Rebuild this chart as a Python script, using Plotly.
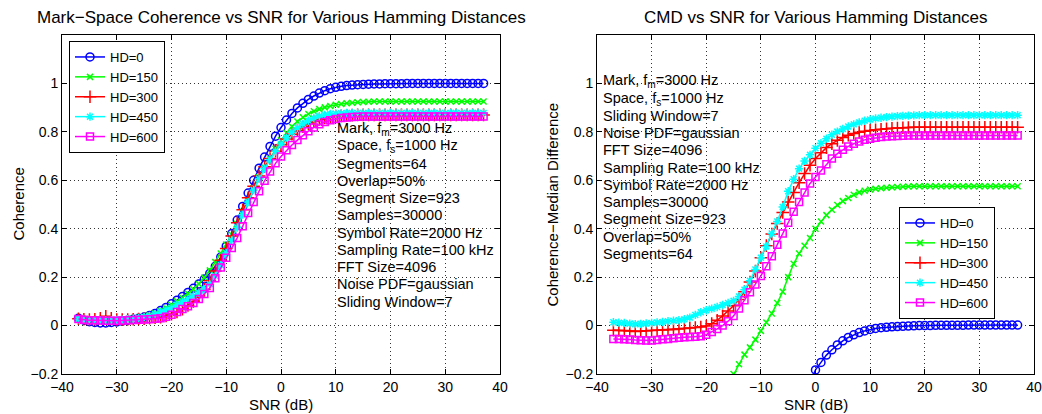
import plotly.graph_objects as go

W, H = 1042, 414

snr = list(range(-37, 38))

x_ticks = [-40, -30, -20, -10, 0, 10, 20, 30, 40]
x_tick_labels = ["\u221240", "\u221230", "\u221220", "\u221210", "0", "10", "20", "30", "40"]
y_ticks = [-0.2, 0, 0.2, 0.4, 0.6, 0.8, 1.0]
y_tick_labels = ["\u22120.2", "0", "0.2", "0.4", "0.6", "0.8", "1"]

series_names = ["HD=0", "HD=150", "HD=300", "HD=450", "HD=600"]

# ---- Left panel: Mark-Space coherence ----
coh_hd0 = [0.030, 0.022, 0.016, 0.013, 0.011, 0.011, 0.013, 0.015, 0.018, 0.022,
           0.026, 0.030, 0.035, 0.042, 0.050, 0.062, 0.075, 0.090, 0.105, 0.120,
           0.137, 0.154, 0.172, 0.192, 0.216, 0.245, 0.283, 0.328, 0.380, 0.436,
           0.492, 0.547, 0.600, 0.650, 0.696, 0.740, 0.782, 0.818, 0.849, 0.876,
           0.899, 0.918, 0.934, 0.948, 0.960, 0.970, 0.978, 0.984, 0.988, 0.991,
           0.993, 0.995, 0.996, 0.997, 0.998, 0.998, 0.999, 0.999, 0.999, 0.999,
           1.000, 1.000, 1.000, 1.000, 1.000, 1.000, 1.000, 1.000, 1.000, 1.000,
           1.000, 1.000, 1.000, 1.000, 1.000]
coh_hd150 = [0.028, 0.025, 0.022, 0.021, 0.020, 0.020, 0.021, 0.022, 0.024, 0.026,
             0.029, 0.032, 0.036, 0.042, 0.050, 0.060, 0.072, 0.086, 0.100, 0.115,
             0.132, 0.150, 0.172, 0.198, 0.228, 0.262, 0.298, 0.335, 0.375, 0.420,
             0.470, 0.520, 0.568, 0.612, 0.652, 0.690, 0.730, 0.765, 0.795, 0.822,
             0.843, 0.860, 0.874, 0.885, 0.894, 0.901, 0.907, 0.912, 0.915, 0.918,
             0.920, 0.922, 0.923, 0.924, 0.925, 0.925, 0.925, 0.925, 0.925, 0.925,
             0.925, 0.925, 0.925, 0.925, 0.925, 0.925, 0.925, 0.925, 0.925, 0.925,
             0.925, 0.925, 0.925, 0.925, 0.925]
coh_hd300 = [0.028, 0.026, 0.025, 0.026, 0.030, 0.038, 0.030, 0.025, 0.025, 0.025,
             0.026, 0.027, 0.028, 0.030, 0.032, 0.035, 0.040, 0.047, 0.056, 0.068,
             0.083, 0.100, 0.122, 0.150, 0.185, 0.225, 0.270, 0.318, 0.370, 0.425,
             0.478, 0.528, 0.575, 0.618, 0.656, 0.690, 0.720, 0.747, 0.770, 0.790,
             0.807, 0.821, 0.833, 0.843, 0.851, 0.857, 0.861, 0.864, 0.866, 0.868,
             0.869, 0.870, 0.870, 0.870, 0.870, 0.870, 0.870, 0.870, 0.870, 0.870,
             0.870, 0.870, 0.870, 0.870, 0.870, 0.870, 0.870, 0.870, 0.870, 0.870,
             0.870, 0.870, 0.870, 0.870, 0.870]
coh_hd450 = [0.026, 0.024, 0.023, 0.022, 0.022, 0.022, 0.022, 0.023, 0.024, 0.026,
             0.028, 0.031, 0.035, 0.040, 0.047, 0.055, 0.064, 0.074, 0.085, 0.097,
             0.110, 0.122, 0.135, 0.150, 0.172, 0.205, 0.250, 0.300, 0.352, 0.405,
             0.458, 0.510, 0.560, 0.606, 0.648, 0.686, 0.720, 0.750, 0.776, 0.798,
             0.817, 0.833, 0.846, 0.857, 0.865, 0.870, 0.874, 0.876, 0.877, 0.878,
             0.878, 0.878, 0.878, 0.878, 0.878, 0.878, 0.878, 0.878, 0.878, 0.878,
             0.878, 0.878, 0.878, 0.878, 0.878, 0.878, 0.878, 0.878, 0.878, 0.878,
             0.878, 0.878, 0.878, 0.878, 0.878]
coh_hd600 = [0.027, 0.024, 0.022, 0.022, 0.021, 0.020, 0.020, 0.020, 0.021, 0.022,
             0.023, 0.024, 0.025, 0.026, 0.028, 0.030, 0.036, 0.045, 0.056, 0.068,
             0.080, 0.093, 0.110, 0.130, 0.155, 0.195, 0.240, 0.280, 0.320, 0.362,
             0.410, 0.465, 0.510, 0.555, 0.598, 0.636, 0.670, 0.698, 0.724, 0.746,
             0.766, 0.786, 0.803, 0.818, 0.831, 0.841, 0.848, 0.853, 0.857, 0.859,
             0.861, 0.862, 0.863, 0.863, 0.863, 0.863, 0.863, 0.863, 0.863, 0.863,
             0.863, 0.863, 0.863, 0.863, 0.863, 0.863, 0.863, 0.863, 0.863, 0.863,
             0.863, 0.863, 0.863, 0.863, 0.863]

# ---- Right panel: coherence-median difference ----
N = None
cmd_hd0 = [N, N, N, N, N, N, N, N, N, N,
           N, N, N, N, N, N, N, N, N, N,
           N, N, N, N, N, N, N, N, N, N,
           N, N, N, N, N, N,
           -0.235, -0.183, -0.152, -0.122, -0.100, -0.080, -0.063, -0.049, -0.038, -0.029,
           -0.022, -0.016, -0.012, -0.009, -0.007, -0.005, -0.004, -0.003, -0.002, -0.001,
           0.000, 0.000, 0.000, 0.001, 0.001, 0.001, 0.001, 0.001, 0.001, 0.002,
           0.002, 0.002, 0.002, 0.002, 0.002, 0.002, 0.002, 0.002, 0.002]
cmd_hd150 = [N, N, N, N, N, N, N, N, N, N,
             N, N, N, N, N, N, N, N, N, N,
             -0.290, -0.245, -0.200, -0.160, -0.120, -0.090, -0.058, -0.022, 0.013, 0.050,
             0.093, 0.140, 0.200, 0.255, 0.298, 0.330, 0.362, 0.400, 0.430, 0.456,
             0.478, 0.498, 0.514, 0.527, 0.540, 0.550, 0.557, 0.562, 0.565, 0.567,
             0.569, 0.571, 0.572, 0.573, 0.574, 0.575, 0.575, 0.575, 0.575, 0.575,
             0.575, 0.575, 0.575, 0.575, 0.575, 0.575, 0.575, 0.575, 0.575, 0.575,
             0.575, 0.575, 0.575, 0.575, 0.575]
cmd_hd300 = [-0.019, -0.020, -0.020, -0.022, -0.024, -0.023, -0.021, -0.020, -0.019, -0.018,
             -0.017, -0.016, -0.014, -0.012, -0.010, -0.008, -0.006, -0.002, 0.008, 0.022,
             0.040, 0.060, 0.082, 0.108, 0.140, 0.180, 0.225, 0.280, 0.330, 0.378,
             0.422, 0.467, 0.510, 0.550, 0.590, 0.628, 0.662, 0.690, 0.714, 0.735,
             0.751, 0.765, 0.777, 0.786, 0.793, 0.798, 0.802, 0.806, 0.809, 0.811,
             0.813, 0.815, 0.816, 0.817, 0.818, 0.819, 0.819, 0.819, 0.819, 0.819,
             0.819, 0.819, 0.819, 0.819, 0.819, 0.819, 0.819, 0.819, 0.819, 0.819,
             0.819, 0.819, 0.819, 0.819, 0.819]
cmd_hd450 = [0.014, 0.012, 0.011, 0.008, 0.006, 0.007, 0.009, 0.011, 0.013, 0.015,
             0.018, 0.020, 0.022, 0.026, 0.033, 0.044, 0.055, 0.063, 0.070, 0.077,
             0.085, 0.093, 0.102, 0.120, 0.148, 0.185, 0.232, 0.280, 0.327, 0.380,
             0.430, 0.490, 0.555, 0.604, 0.648, 0.680, 0.705, 0.732, 0.753, 0.772,
             0.788, 0.801, 0.812, 0.822, 0.831, 0.839, 0.846, 0.851, 0.855, 0.858,
             0.861, 0.863, 0.865, 0.866, 0.867, 0.868, 0.869, 0.869, 0.869, 0.869,
             0.869, 0.869, 0.869, 0.869, 0.869, 0.869, 0.869, 0.869, 0.869, 0.869,
             0.869, 0.869, 0.869, 0.869, 0.869]
cmd_hd600 = [-0.055, -0.055, -0.056, -0.058, -0.060, -0.061, -0.062, -0.062, -0.060, -0.057,
             -0.055, -0.052, -0.050, -0.048, -0.047, -0.046, -0.044, -0.038, -0.027, -0.014,
             0.000, 0.018, 0.040, 0.070, 0.105, 0.138, 0.170, 0.205, 0.245, 0.286,
             0.334, 0.380, 0.425, 0.470, 0.510, 0.550, 0.587, 0.614, 0.640, 0.666,
             0.690, 0.710, 0.726, 0.740, 0.751, 0.760, 0.767, 0.772, 0.776, 0.779,
             0.781, 0.782, 0.783, 0.784, 0.785, 0.785, 0.785, 0.785, 0.785, 0.785,
             0.785, 0.785, 0.785, 0.785, 0.785, 0.785, 0.785, 0.785, 0.785, 0.785,
             0.785, 0.785, 0.785, 0.785, 0.785]

left_info = ["Mark, f<sub>m</sub>=3000 Hz", "Space, f<sub>s</sub>=1000 Hz", "Segments=64",
             "Overlap=50%", "Segment Size=923", "Samples=30000", "Symbol Rate=2000 Hz",
             "Sampling Rate=100 kHz", "FFT Size=4096", "Noise PDF=gaussian", "Sliding Window=7"]
right_info = ["Mark, f<sub>m</sub>=3000 Hz", "Space, f<sub>s</sub>=1000 Hz", "Sliding Window=7",
              "Noise PDF=gaussian", "FFT Size=4096", "Sampling Rate=100 kHz", "Symbol Rate=2000 Hz",
              "Samples=30000", "Segment Size=923", "Overlap=50%", "Segments=64"]

FONT = "Liberation Sans, Arial, Helvetica, sans-serif"

styles = [
    dict(color="#0000ff", symbol="circle-open", size=8),
    dict(color="#00ff00", symbol="x-thin-open", size=6),
    dict(color="#ff0000", symbol="cross-thin-open", size=9),
    dict(color="#00ffff", symbol="asterisk-open", size=7),
    dict(color="#ff00ff", symbol="square-open", size=7),
]

fig = go.Figure()

left_series = [coh_hd0, coh_hd150, coh_hd300, coh_hd450, coh_hd600]
right_series = [cmd_hd0, cmd_hd150, cmd_hd300, cmd_hd450, cmd_hd600]

for name, ys, st in zip(series_names, left_series, styles):
    fig.add_trace(go.Scatter(
        x=snr, y=ys, name=name, mode="lines+markers",
        line=dict(color=st["color"], width=1.5),
        marker=dict(symbol=st["symbol"], size=st["size"], color=st["color"],
                    line=dict(color=st["color"], width=1.5)),
        xaxis="x", yaxis="y", legend="legend", connectgaps=False))

for name, ys, st in zip(series_names, right_series, styles):
    fig.add_trace(go.Scatter(
        x=snr, y=ys, name=name, mode="lines+markers",
        line=dict(color=st["color"], width=1.5),
        marker=dict(symbol=st["symbol"], size=st["size"], color=st["color"],
                    line=dict(color=st["color"], width=1.5)),
        xaxis="x2", yaxis="y2", legend="legend2", connectgaps=False))

# plot-area geometry in pixels
L1, R1 = 62, 500
L2, R2 = 597, 1034
TOP, BOT = 35, 374

def px_x(p):
    return p / W

def px_y(p):
    return 1 - p / H

common_axis = dict(
    ticks="inside", ticklen=5, tickwidth=1, tickcolor="black",
    mirror="allticks", showline=True, linecolor="black", linewidth=1,
    showgrid=True, gridcolor="#333333", griddash="1px,3px", gridwidth=1,
    zeroline=False, automargin=False,
    tickfont=dict(family=FONT, size=14, color="black"),
)

fig.update_layout(
    width=W, height=H,
    margin=dict(l=0, r=0, t=0, b=0),
    paper_bgcolor="white", plot_bgcolor="white",
    font=dict(family=FONT, color="black"),
    xaxis=dict(domain=[px_x(L1), px_x(R1)], range=[-40, 40], anchor="y",
               tickvals=x_ticks, ticktext=x_tick_labels, **common_axis),
    yaxis=dict(domain=[px_y(BOT), px_y(TOP)], range=[-0.2, 1.2], anchor="x",
               tickvals=y_ticks, ticktext=y_tick_labels, **common_axis),
    xaxis2=dict(domain=[px_x(L2), px_x(R2)], range=[-40, 40], anchor="y2",
                tickvals=x_ticks, ticktext=x_tick_labels, **common_axis),
    yaxis2=dict(domain=[px_y(BOT), px_y(TOP)], range=[-0.2, 1.2], anchor="x2",
                tickvals=y_ticks, ticktext=y_tick_labels, **common_axis),
    legend=dict(x=px_x(69), y=px_y(41), xanchor="left", yanchor="top",
                bgcolor="white", bordercolor="black", borderwidth=1,
                font=dict(family=FONT, size=13), tracegroupgap=0, itemwidth=30),
    legend2=dict(x=px_x(899), y=px_y(207), xanchor="left", yanchor="top",
                 bgcolor="white", bordercolor="black", borderwidth=1,
                 font=dict(family=FONT, size=13), tracegroupgap=0, itemwidth=30),
    showlegend=True,
)

ann = []
# titles
ann.append(dict(text="Mark\u2212Space Coherence vs SNR for Various Hamming Distances",
                x=px_x((L1 + R1) / 2), y=px_y(18), xref="paper", yref="paper",
                showarrow=False, xanchor="center", yanchor="middle",
                font=dict(family=FONT, size=17)))
ann.append(dict(text="CMD vs SNR for Various Hamming Distances",
                x=px_x((L2 + R2) / 2), y=px_y(18), xref="paper", yref="paper",
                showarrow=False, xanchor="center", yanchor="middle",
                font=dict(family=FONT, size=17)))
# axis labels
for cx in [(L1 + R1) / 2, (L2 + R2) / 2]:
    ann.append(dict(text="SNR (dB)", x=px_x(cx), y=px_y(404), xref="paper", yref="paper",
                    showarrow=False, xanchor="center", yanchor="middle",
                    font=dict(family=FONT, size=15)))
ann.append(dict(text="Coherence", x=px_x(18), y=px_y((TOP + BOT) / 2), xref="paper", yref="paper",
                showarrow=False, textangle=-90, xanchor="center", yanchor="middle",
                font=dict(family=FONT, size=15)))
ann.append(dict(text="Coherence\u2212Median Difference", x=px_x(552), y=px_y((TOP + BOT) / 2),
                xref="paper", yref="paper", showarrow=False, textangle=-90,
                xanchor="center", yanchor="middle", font=dict(family=FONT, size=15)))

# info text blocks
dy = 17.3 / 243.0
for i, t in enumerate(left_info):
    ann.append(dict(text=t, x=10, y=0.811 - i * dy, xref="x", yref="y", showarrow=False,
                    xanchor="left", yanchor="middle", borderpad=0,
                    font=dict(family=FONT, size=14.5)))
for i, t in enumerate(right_info):
    ann.append(dict(text=t, x=-39, y=1.008 - i * dy, xref="x2", yref="y2", showarrow=False,
                    xanchor="left", yanchor="middle", borderpad=0,
                    font=dict(family=FONT, size=14.5)))

fig.update_layout(annotations=ann)

fig.write_html("out.html")
